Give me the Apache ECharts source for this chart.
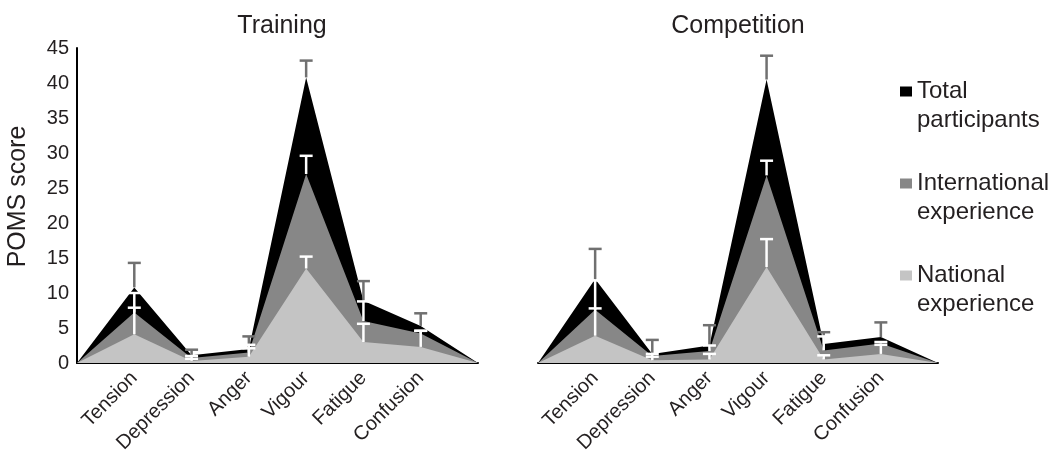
<!DOCTYPE html>
<html><head><meta charset="utf-8">
<script src="https://cdn.jsdelivr.net/npm/echarts@6/dist/echarts.min.js"></script>
<style>html,body{margin:0;padding:0;background:#fff}#c{width:1053px;height:459px}</style>
</head><body><div id="c"></div>
<script>
// ---- data ----
const categories = ['', 'Tension', 'Depression', 'Anger', 'Vigour', 'Fatigue', 'Confusion', ''];
const panelTitles = ['Training', 'Competition'];
const seriesNames = ['Total participants', 'International experience', 'National experience'];
const legendLines = [['Total', 'participants'], ['International', 'experience'], ['National', 'experience']];
const yMin = 0, yMax = 45, yStep = 5;

const trainingTotal   = [0, 10.8, 1.1, 2.0, 40.8, 8.9, 5.3, 0];
const trainingTotalSD = [null, 3.5, 0.8, 1.8, 2.4, 2.8, 1.8, null];
const trainingIntl    = [0, 7.2, 0.7, 1.5, 27.0, 6.0, 4.2, 0];
const trainingIntlSD  = [null, 2.8, 0.3, 1.1, 2.6, 2.8, 0.4, null];
const trainingNat     = [0, 4.1, 0.3, 0.9, 13.5, 3.0, 2.3, 0];
const trainingNatSD   = [null, 3.8, 0.3, 1.2, 1.7, 2.6, 2.3, null];

const compTotal   = [0, 12.0, 1.3, 2.5, 40.5, 2.7, 3.7, 0];
const compTotalSD = [null, 4.3, 2.0, 2.9, 3.4, 1.7, 2.1, null];
const compIntl    = [0, 7.6, 1.0, 1.7, 26.8, 1.8, 2.8, 0];
const compIntlSD  = [null, 4.2, 0.3, 0.8, 2.1, 2.0, 0.2, null];
const compNat     = [0, 3.9, 0.4, 0.5, 13.7, 0.5, 1.3, 0];
const compNatSD   = [null, 3.9, 0.5, 0.8, 4.0, 0.6, 1.3, null];

// ---- styling ----
const FONT = "'Liberation Sans', Arial, Helvetica, sans-serif";
const TEXT = '#231f20';
const areaColors = ['#000000', '#878787', '#c4c4c4'];
const errColors = ['#707070', '#ffffff', '#ffffff'];

function errData(vals, sds) {
  const out = [];
  for (let i = 0; i < vals.length; i++) {
    if (sds[i] != null) out.push([i, vals[i], vals[i] + sds[i]]);
  }
  return out;
}
function errRender(color) {
  return function (params, api) {
    const x = api.value(0), v = api.value(1), hi = api.value(2);
    const p0 = api.coord([x, v]);
    const p1 = api.coord([x, hi]);
    const style = { stroke: color, lineWidth: 2.5 };
    return { type: 'group', children: [
      { type: 'line', shape: { x1: p0[0], y1: p0[1], x2: p1[0], y2: p1[1] }, style: style },
      { type: 'line', shape: { x1: p1[0] - 6.5, y1: p1[1], x2: p1[0] + 6.5, y2: p1[1] }, style: style }
    ]};
  };
}

const panels = [
  { vals: [trainingTotal, trainingIntl, trainingNat], sds: [trainingTotalSD, trainingIntlSD, trainingNatSD] },
  { vals: [compTotal, compIntl, compNat], sds: [compTotalSD, compIntlSD, compNatSD] }
];

const series = [];
panels.forEach(function (p, gi) {
  p.vals.forEach(function (v, k) {
    series.push({
      name: seriesNames[k], type: 'line', xAxisIndex: gi, yAxisIndex: gi,
      data: v, symbol: 'none', smooth: false,
      lineStyle: { width: 0 }, itemStyle: { color: areaColors[k] },
      areaStyle: { color: areaColors[k], opacity: 1 },
      z: 2 + k, silent: true
    });
  });
  p.vals.forEach(function (v, k) {
    series.push({
      type: 'custom', xAxisIndex: gi, yAxisIndex: gi,
      data: errData(v, p.sds[k]), renderItem: errRender(errColors[k]),
      encode: { x: 0, y: [1, 2] }, z: 10 + k, clip: false, silent: true
    });
  });
});

const grids = [
  { left: 77, right: 575, top: 48, bottom: 96 },
  { left: 538, right: 115, top: 48, bottom: 96 }
];

const option = {
  animation: false,
  backgroundColor: '#ffffff',
  textStyle: { fontFamily: FONT, color: TEXT },
  title: [
    { text: panelTitles[0], left: 277, top: 9, textAlign: 'center',
      textStyle: { fontFamily: FONT, fontSize: 25, fontWeight: 'normal', color: TEXT } },
    { text: panelTitles[1], left: 733, top: 9, textAlign: 'center',
      textStyle: { fontFamily: FONT, fontSize: 25, fontWeight: 'normal', color: TEXT } }
  ],
  legend: {
    data: seriesNames, orient: 'vertical', left: 900, top: 48, padding: 0,
    itemWidth: 12, itemHeight: 10, itemGap: 5, icon: 'rect', selectedMode: false,
    formatter: function (name) { return '\n' + legendLines[seriesNames.indexOf(name)].join('\n'); },
    textStyle: { fontFamily: FONT, fontSize: 24, color: TEXT, lineHeight: 29 }
  },
  grid: grids,
  xAxis: [0, 1].map(function (gi) {
    return {
      type: 'category', gridIndex: gi, data: categories, boundaryGap: false,
      axisLine: { lineStyle: { color: '#000', width: 2 } },
      axisTick: { show: false },
      axisLabel: { interval: 0, rotate: 45, fontSize: 20, fontFamily: FONT, color: TEXT, margin: 12 },
      splitLine: { show: false }
    };
  }),
  yAxis: [0, 1].map(function (gi) {
    return {
      type: 'value', gridIndex: gi, min: yMin, max: yMax, interval: yStep, show: gi === 0,
      name: gi === 0 ? 'POMS score' : '', nameLocation: 'middle', nameGap: 46, nameRotate: 90,
      nameTextStyle: { fontFamily: FONT, fontSize: 25, color: TEXT, padding: [0, 0, 0, 18] },
      axisLine: { show: true, lineStyle: { color: '#000', width: 2 } },
      axisTick: { show: false },
      axisLabel: { fontSize: 20, fontFamily: FONT, color: TEXT, margin: 8 },
      splitLine: { show: false }
    };
  }),
  series: series
};

const chart = echarts.init(document.getElementById('c'), null, { renderer: 'canvas' });
chart.setOption(option);
</script>
</body></html>
